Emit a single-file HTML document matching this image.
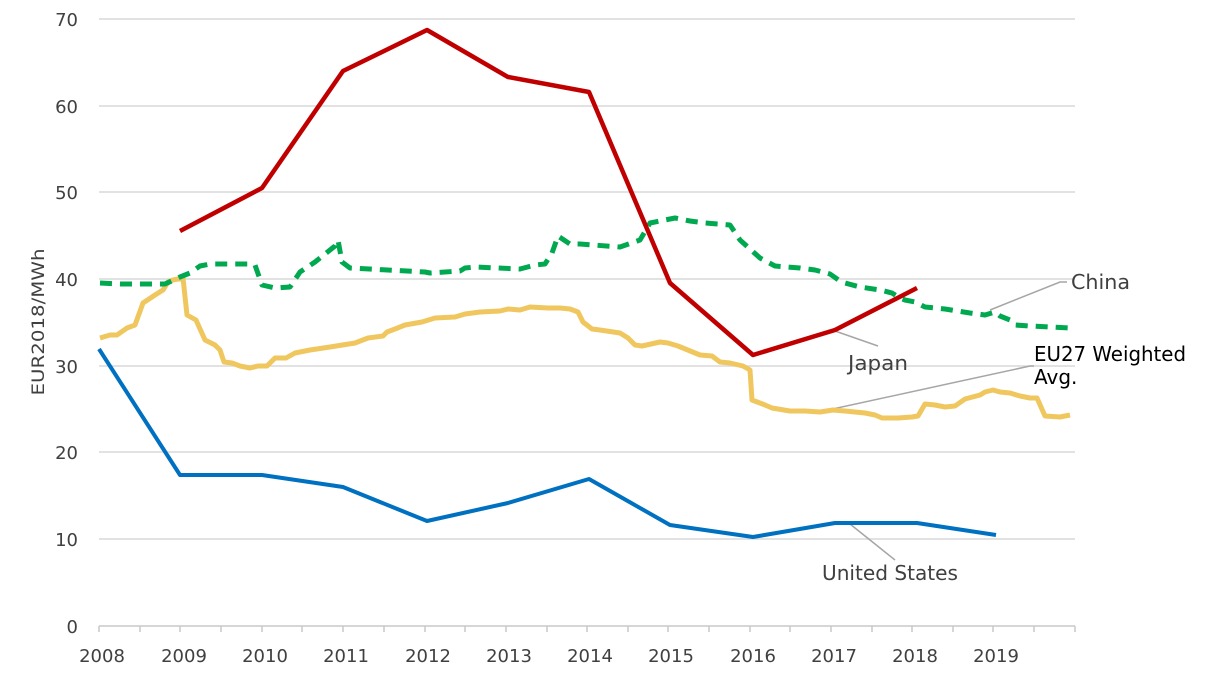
<!DOCTYPE html>
<html><head><meta charset="utf-8"><style>
html,body{margin:0;padding:0;background:#fff;}
svg{display:block;font-family:"DejaVu Sans","Liberation Sans",sans-serif;}
</style></head><body>
<svg width="1209" height="683" viewBox="0 0 1209 683" xmlns="http://www.w3.org/2000/svg">
<g stroke="#d9d9d9" stroke-width="1.5">
<line x1="99" y1="19" x2="1075" y2="19"/><line x1="99" y1="106" x2="1075" y2="106"/>
<line x1="99" y1="192" x2="1075" y2="192"/><line x1="99" y1="279" x2="1075" y2="279"/>
<line x1="99" y1="366" x2="1075" y2="366"/><line x1="99" y1="452" x2="1075" y2="452"/>
<line x1="99" y1="539" x2="1075" y2="539"/>
</g>
<g stroke="#c8c8c8" stroke-width="1.5">
<line x1="99" y1="626" x2="1075" y2="626"/>
<line x1="99" y1="626" x2="99" y2="632"/><line x1="140" y1="626" x2="140" y2="632"/><line x1="180" y1="626" x2="180" y2="632"/><line x1="221" y1="626" x2="221" y2="632"/><line x1="262" y1="626" x2="262" y2="632"/><line x1="302" y1="626" x2="302" y2="632"/><line x1="343" y1="626" x2="343" y2="632"/><line x1="384" y1="626" x2="384" y2="632"/><line x1="425" y1="626" x2="425" y2="632"/><line x1="465" y1="626" x2="465" y2="632"/><line x1="506" y1="626" x2="506" y2="632"/><line x1="547" y1="626" x2="547" y2="632"/><line x1="587" y1="626" x2="587" y2="632"/><line x1="628" y1="626" x2="628" y2="632"/><line x1="668" y1="626" x2="668" y2="632"/><line x1="709" y1="626" x2="709" y2="632"/><line x1="750" y1="626" x2="750" y2="632"/><line x1="790" y1="626" x2="790" y2="632"/><line x1="831" y1="626" x2="831" y2="632"/><line x1="872" y1="626" x2="872" y2="632"/><line x1="912" y1="626" x2="912" y2="632"/><line x1="953" y1="626" x2="953" y2="632"/><line x1="993" y1="626" x2="993" y2="632"/><line x1="1034" y1="626" x2="1034" y2="632"/><line x1="1075" y1="626" x2="1075" y2="632"/>
</g>
<g font-size="18" fill="#404040" text-anchor="end">
<text x="78" y="26">70</text><text x="78" y="113">60</text><text x="78" y="199">50</text><text x="78" y="286">40</text><text x="78" y="373">30</text><text x="78" y="459">20</text><text x="78" y="546">10</text><text x="78" y="633">0</text>
</g>
<g font-size="18" fill="#404040" text-anchor="middle">
<text x="102" y="662">2008</text><text x="184" y="662">2009</text><text x="265" y="662">2010</text><text x="346" y="662">2011</text><text x="428" y="662">2012</text><text x="509" y="662">2013</text><text x="590" y="662">2014</text><text x="671" y="662">2015</text><text x="753" y="662">2016</text><text x="834" y="662">2017</text><text x="915" y="662">2018</text><text x="996" y="662">2019</text>
</g>
<text transform="translate(44,322) rotate(-90)" font-size="17" fill="#404040" text-anchor="middle" textLength="147" lengthAdjust="spacingAndGlyphs">EUR2018/MWh</text>

<g fill="none" stroke="#a6a6a6" stroke-width="1.5">
<polyline points="990,310 1060,282 1067,282"/>
<polyline points="835,331 878,346"/>
<polyline points="828,410 1030,366 1034,366"/>
<polyline points="850,524 895,560"/>
</g>

<polyline fill="none" stroke="#f0c75e" stroke-width="5" stroke-linejoin="round" points="100,338 110,335 117,335 127,328 135,325 143,303 155,295 163,290 168,282 173,280 178,279 183,278 187,315 196,320 205,340 215,345 220,350 224,362 232,363 240,366 250,368 258,366 267,366 275,358 286,358 295,353 310,350 330,347 355,343 368,338 383,336 387,332 395,329 405,325 422,322 435,318 455,317 465,314 480,312 500,311 508,309 520,310 530,307 548,308 560,308 570,309 578,312 583,322 592,329 600,330 620,333 628,338 635,345 642,346 660,342 668,343 678,346 700,355 712,356 720,362 730,363 743,366 750,370 752,400 765,405 772,408 790,411 805,411 820,412 833,410 845,411 855,412 865,413 875,415 882,418 898,418 912,417 918,416 925,404 935,405 945,407 955,406 965,399 980,395 985,392 993,390 1000,392 1010,393 1020,396 1030,398 1037,398 1045,416 1060,417 1070,415"/>

<polyline fill="none" stroke="#00a84f" stroke-width="5" stroke-dasharray="12 8" stroke-linejoin="round" points="100,283 120,284 165,284 180,277 190,273 200,266 210,264 250,264 255,265 262,285 275,288 290,287 300,272 315,262 335,246 338,240 342,262 350,268 425,272 430,273 460,271 465,268 475,267 520,269 535,265 545,264 552,253 558,236 570,244 580,244 620,247 640,240 650,223 665,220 675,218 690,221 705,223 730,225 740,240 760,258 775,266 800,268 815,270 830,274 840,281 845,283 860,287 880,290 892,293 900,298 905,300 915,302 925,307 945,309 970,313 985,315 995,312 1000,316 1010,320 1015,325 1030,326 1070,328"/>

<polyline fill="none" stroke="#c00000" stroke-width="4.5" stroke-linejoin="round" points="180,231 262,188 343,71 427,30 508,77 589,92 670,283 753,355 835,330 917,288"/>

<polyline fill="none" stroke="#0070c0" stroke-width="4" stroke-linejoin="round" points="99,349 180,475 262,475 343,487 427,521 508,503 589,479 670,525 753,537 835,523 917,523 996,535"/>

<g font-size="20" fill="#404040">
<text x="1071" y="289" textLength="59" lengthAdjust="spacingAndGlyphs">China</text>
<text x="848" y="370" textLength="60" lengthAdjust="spacingAndGlyphs">Japan</text>
<text x="1034" y="361" fill="#000" textLength="152" lengthAdjust="spacingAndGlyphs">EU27 Weighted</text>
<text x="1034" y="384" fill="#000">Avg.</text>
<text x="822" y="580" textLength="136" lengthAdjust="spacingAndGlyphs">United States</text>
</g>
</svg>
</body></html>
